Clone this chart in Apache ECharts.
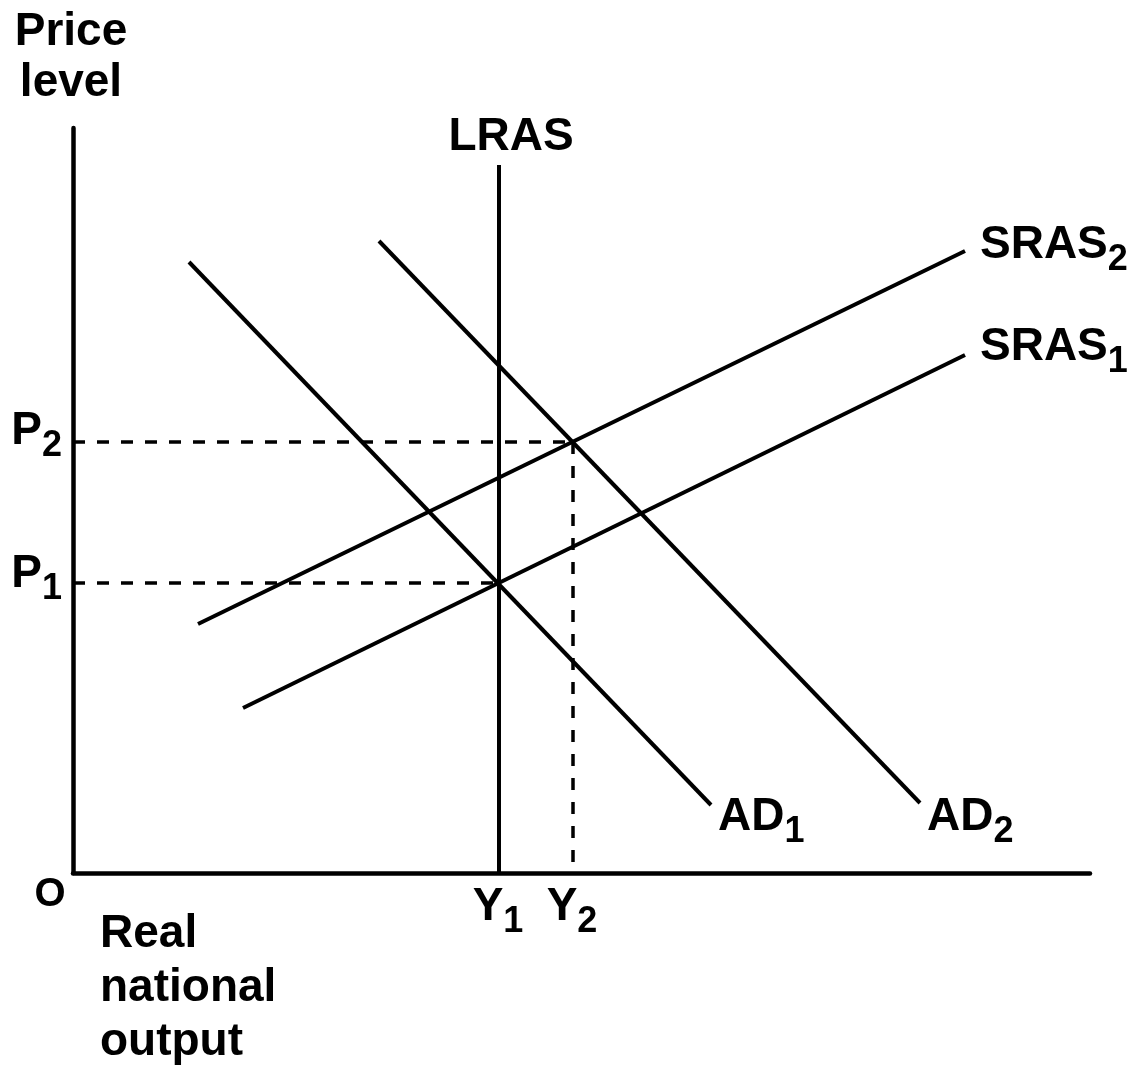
<!DOCTYPE html>
<html>
<head>
<meta charset="utf-8">
<script src="https://cdn.jsdelivr.net/npm/echarts@6/dist/echarts.min.js"></script>
<style>
  html, body { margin: 0; padding: 0; background: #fff; }
  #chart { width: 1144px; height: 1070px; }
</style>
</head>
<body>
<div id="chart"></div>
<script>
// schematic units: x = real national output, y = price level (no numeric scale in the diagram)
const xMax = 1017
const yMax = 745

const ad1 = [[116, 611], [638, 68]]
const ad2 = [[306, 632], [847, 70]]
const sras1 = [[170, 165], [892, 518]]
const sras2 = [[125, 249], [892, 622]]
const lras = [[426, 0], [426, 708]]

const priceLevels = [290, 431]   // P1, P2
const outputs = [426, 500]       // Y1, Y2

const FONT = "'Liberation Sans', Arial, sans-serif"
const rich = {
  m: { fontSize: 46, fontWeight: 'bold', lineHeight: 46, color: '#000', fontFamily: FONT },
  s: { fontSize: 36, fontWeight: 'bold', lineHeight: 36, color: '#000', fontFamily: FONT, padding: [30, 0, 0, 0] }
}

function tag(main, s) {
  return s ? `{m|${main}}{s|${s}}` : `{m|${main}}`
}

function pt(value, text, position, distance, offset) {
  return {
    value,
    label: { show: true, formatter: text, position, distance, offset, rich }
  }
}

function plain(value) {
  return { value, label: { show: false } }
}

function line(data, dashed) {
  return {
    type: 'line',
    data,
    symbol: 'circle',
    symbolSize: 0,
    showSymbol: true,
    silent: true,
    animation: false,
    lineStyle: dashed
      ? { color: '#000', width: 3.5, type: [12, 12] }
      : { color: '#000', width: 4 },
    emphasis: { disabled: true },
    z: dashed ? 2 : 3
  }
}

const chart = echarts.init(document.getElementById('chart'))

chart.setOption({
  backgroundColor: '#fff',
  animation: false,
  grid: { left: 73, right: 54, top: 128, bottom: 197 },
  xAxis: {
    type: 'value', min: 0, max: xMax,
    axisLine: { show: true, onZero: false, lineStyle: { color: '#000', width: 4.5 } },
    axisTick: { show: false }, axisLabel: { show: false }, splitLine: { show: false }
  },
  yAxis: {
    type: 'value', min: 0, max: yMax,
    axisLine: { show: true, onZero: false, lineStyle: { color: '#000', width: 4.5 } },
    axisTick: { show: false }, axisLabel: { show: false }, splitLine: { show: false }
  },
  graphic: [
    {
      type: 'text', x: 71, y: 7,
      style: {
        text: 'Price\nlevel', font: `bold 46px ${FONT}`, lineHeight: 51,
        align: 'center', verticalAlign: 'top', fill: '#000'
      }
    },
    {
      type: 'text', x: 50, y: 895,
      style: { text: 'O', font: `bold 40px ${FONT}`, align: 'center', verticalAlign: 'middle', fill: '#000' }
    },
    {
      type: 'text', x: 100, y: 907,
      style: {
        text: 'Real\nnational\noutput', font: `bold 46px ${FONT}`, lineHeight: 54,
        align: 'left', verticalAlign: 'top', fill: '#000'
      }
    }
  ],
  series: [
    // dashed guides
    line([pt([0, priceLevels[0]], tag('P', 1), 'left', 11, [0, -9]), plain([outputs[0], priceLevels[0]])], true),
    line([pt([0, priceLevels[1]], tag('P', 2), 'left', 11, [0, -11]), plain([outputs[1], priceLevels[1]])], true),
    line([plain([outputs[1], priceLevels[1]]), pt([outputs[1], 0], tag('Y', 2), 'bottom', 0, [-1, 11])], true),
    // curves
    line([pt(lras[0], tag('Y', 1), 'bottom', 0, [-1, 11]), pt(lras[1], tag('LRAS'), 'top', 5, [12, 0])]),
    line([plain(ad1[0]), pt(ad1[1], tag('AD', 1), 'right', 7, [0, 12])]),
    line([plain(ad2[0]), pt(ad2[1], tag('AD', 2), 'right', 7, [0, 14])]),
    line([plain(sras1[0]), pt(sras1[1], tag('SRAS', 1), 'right', 15, [0, -8])]),
    line([plain(sras2[0]), pt(sras2[1], tag('SRAS', 2), 'right', 15, [0, -6])])
  ]
})
</script>
</body>
</html>
